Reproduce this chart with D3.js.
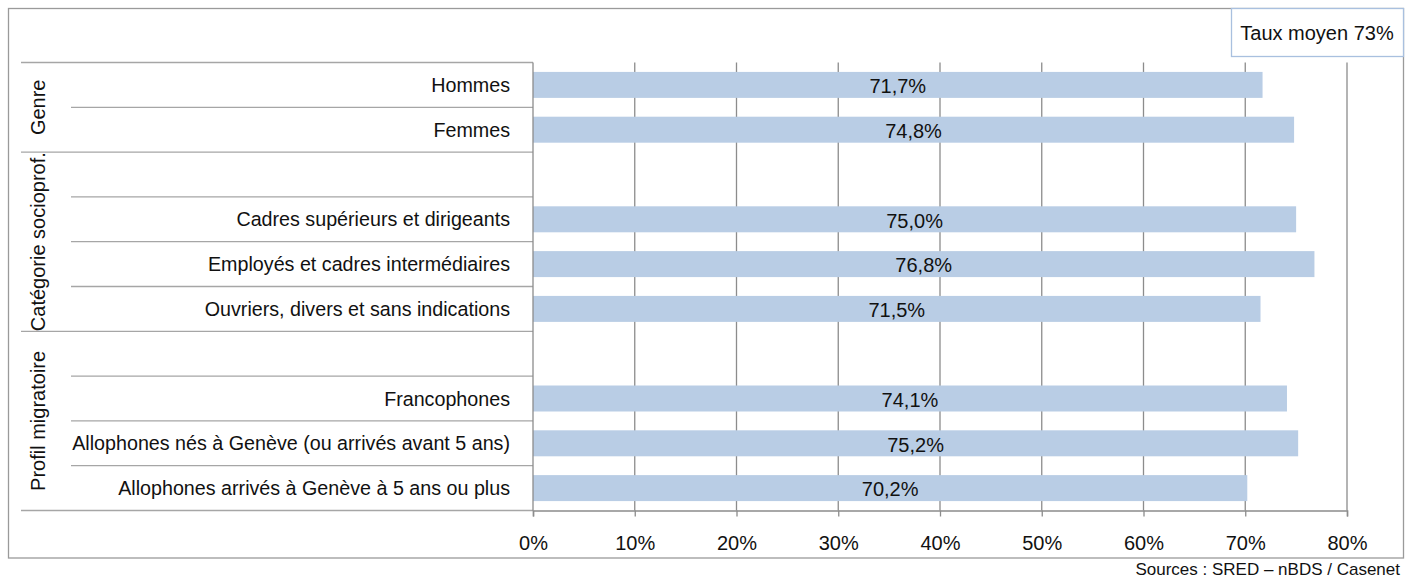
<!DOCTYPE html>
<html>
<head>
<meta charset="utf-8">
<script src="https://cdn.jsdelivr.net/npm/d3@7"></script>
<style>
  html, body { margin: 0; padding: 0; background: #fff; }
  svg { display: block; font-family: "Liberation Sans", Arial, sans-serif; }
</style>
</head>
<body>
<svg id="chart" width="1405" height="580"></svg>
<script>
// ---- data ----
const categories = [
  "Hommes",
  "Femmes",
  "",
  "Cadres supérieurs et dirigeants",
  "Employés et cadres intermédiaires",
  "Ouvriers, divers et sans indications",
  " ",
  "Francophones",
  "Allophones nés à Genève (ou arrivés avant 5 ans)",
  "Allophones arrivés à Genève à 5 ans ou plus"
];
const values = [71.7, 74.8, null, 75.0, 76.8, 71.5, null, 74.1, 75.2, 70.2];
const groupNames = ["Genre", "Catégorie socioprof.", "Profil migratoire"];
const groupStart = [0, 2, 6];   // first row index of each group
const groupEnd = [2, 6, 10];    // exclusive
const xTicks = [0, 10, 20, 30, 40, 50, 60, 70, 80];
const legendText = "Taux moyen 73%";
const sourceText = "Sources : SRED – nBDS / Casenet";

// ---- layout ----
const svg = d3.select("#chart");
const plot = { left: 533, right: 1347, top: 62.5, bottom: 510.5 };
const fs = 20;

const x = d3.scaleLinear().domain([0, 80]).range([plot.left, plot.right]);
const rowIdx = d3.range(categories.length);
const y = d3.scaleBand().domain(rowIdx).range([plot.top, plot.bottom]).paddingInner(0.42).paddingOuter(0.21);
const yRow = d3.scaleBand().domain(rowIdx).range([plot.top, plot.bottom]);

// outer frame
svg.append("rect").attr("x", 8.5).attr("y", 8.5).attr("width", 1395).attr("height", 549.5)
  .attr("fill", "none").attr("stroke", "#9a9a9a").attr("stroke-width", 1.3);

// gridlines (behind bars)
svg.append("g").selectAll("line").data(xTicks.slice(1)).join("line")
  .attr("x1", d => x(d)).attr("x2", d => x(d))
  .attr("y1", plot.top).attr("y2", plot.bottom)
  .attr("stroke", "#8c8c8c").attr("stroke-width", 1.3);

// bars
svg.append("g").selectAll("rect").data(rowIdx.filter(i => values[i] != null)).join("rect")
  .attr("x", x(0)).attr("y", i => y(i))
  .attr("width", i => x(values[i]) - x(0)).attr("height", y.bandwidth())
  .attr("fill", "#b9cde5");

// value labels
svg.append("g").selectAll("text").data(rowIdx.filter(i => values[i] != null)).join("text")
  .attr("x", i => (x(0) + x(values[i])) / 2)
  .attr("y", i => y(i) + y.bandwidth() / 2 + 1)
  .attr("dy", "0.36em").attr("text-anchor", "middle")
  .attr("font-size", fs).attr("fill", "#111")
  .text(i => values[i].toFixed(1).replace(".", ",") + "%");

// row separators in label area
const rowLines = d3.range(categories.length + 1);
const groupBoundaries = [0].concat(groupEnd);
svg.append("g").selectAll("line").data(rowLines).join("line")
  .attr("x1", d => groupBoundaries.includes(d) ? 21 : 71)
  .attr("x2", plot.left)
  .attr("y1", d => d < categories.length ? yRow(d) : plot.bottom)
  .attr("y2", d => d < categories.length ? yRow(d) : plot.bottom)
  .attr("stroke", "#a6a6a6").attr("stroke-width", 1.3);

// category labels
svg.append("g").selectAll("text").data(rowIdx).join("text")
  .attr("x", 510).attr("y", i => yRow(i) + yRow.bandwidth() / 2)
  .attr("dy", "0.36em").attr("text-anchor", "end")
  .attr("font-size", 19.7).attr("fill", "#111")
  .text(i => categories[i].trim());

// group labels (vertical)
svg.append("g").selectAll("text").data(groupNames).join("text")
  .attr("transform", (d, i) => {
    const cy = (yRow(groupStart[i]) + (groupEnd[i] < categories.length ? yRow(groupEnd[i]) : plot.bottom)) / 2;
    return `translate(45,${cy}) rotate(-90)`;
  })
  .attr("text-anchor", "middle").attr("font-size", fs).attr("fill", "#111")
  .text(d => d);

// y axis line
svg.append("line").attr("x1", plot.left).attr("x2", plot.left)
  .attr("y1", plot.top).attr("y2", plot.bottom)
  .attr("stroke", "#8c8c8c").attr("stroke-width", 1.3);

// x axis
const xAxis = d3.axisBottom(x).tickValues(xTicks).tickFormat(d => d + "%").tickSize(6).tickPadding(19);
const gx = svg.append("g").attr("transform", `translate(0,${plot.bottom})`).call(xAxis);
gx.select(".domain").attr("stroke", "#8c8c8c").attr("stroke-width", 1.5);
gx.selectAll(".tick line").attr("stroke", "#8c8c8c").attr("stroke-width", 1.3);
gx.selectAll(".tick text").attr("font-size", fs).attr("fill", "#111")
  .attr("font-family", "Liberation Sans, Arial, sans-serif");

// legend box
svg.append("rect").attr("x", 1231.5).attr("y", 8.5).attr("width", 172).attr("height", 48)
  .attr("fill", "#fff").attr("stroke", "#a9c0df").attr("stroke-width", 1.3);
svg.append("text").attr("x", 1317).attr("y", 33).attr("dy", "0.36em")
  .attr("text-anchor", "middle").attr("font-size", fs).attr("fill", "#111").text(legendText);

// source
svg.append("text").attr("x", 1400).attr("y", 569).attr("dy", "0.36em")
  .attr("text-anchor", "end").attr("font-size", 17).attr("fill", "#111").text(sourceText);
</script>
</body>
</html>
